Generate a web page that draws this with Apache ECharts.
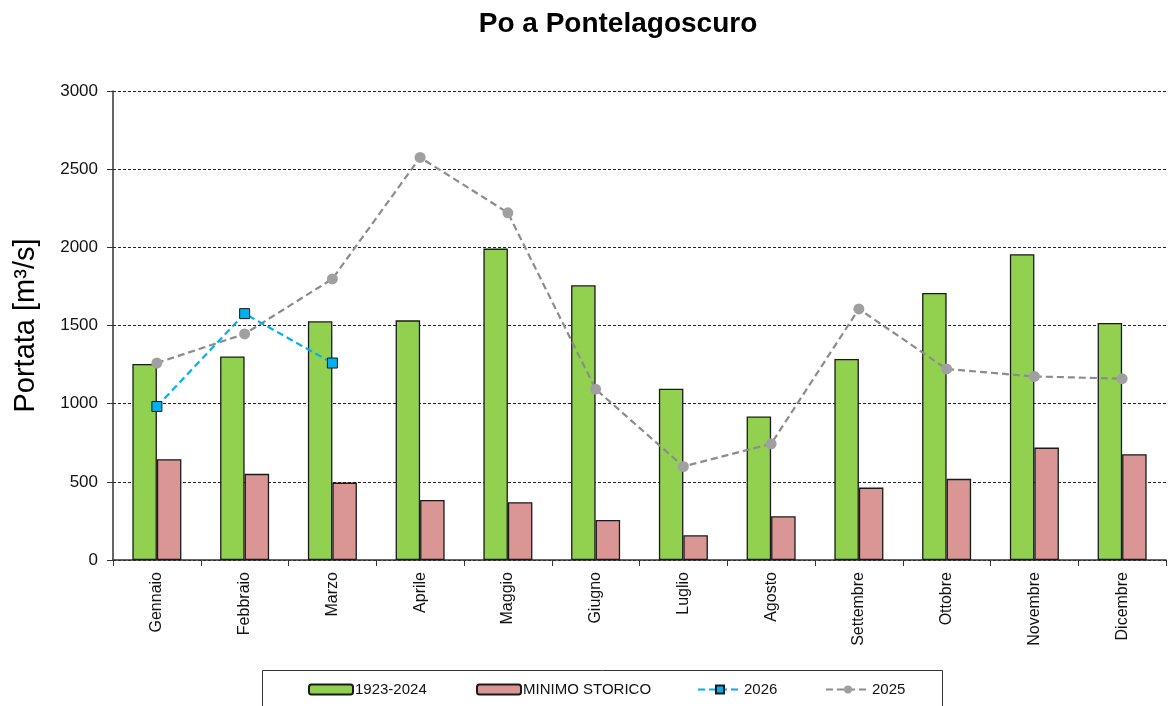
<!DOCTYPE html>
<html>
<head>
<meta charset="utf-8">
<script src="https://cdn.jsdelivr.net/npm/echarts@6/dist/echarts.min.js"></script>
<style>
  html, body { margin: 0; padding: 0; background: #fff; }
  #chart { width: 1169px; height: 706px; }
</style>
</head>
<body>
<div id="chart"></div>
<script>
// Monthly discharge of the Po river at Pontelagoscuro (m³/s)
const months = ['Gennaio', 'Febbraio', 'Marzo', 'Aprile', 'Maggio', 'Giugno',
  'Luglio', 'Agosto', 'Settembre', 'Ottobre', 'Novembre', 'Dicembre'];
const mean19232024 = [1254, 1302, 1527, 1533, 1992, 1757, 1095, 918, 1286, 1708, 1956, 1516];
const minimoStorico = [645, 551, 495, 384, 370, 256, 158, 280, 463, 519, 719, 677];
const year2026 = [982, 1576, 1260, null, null, null, null, null, null, null, null, null];
const year2025 = [1260, 1446, 1798, 2575, 2221, 1093, 598, 743, 1606, 1222, 1174, 1160];
const yTicks = { min: 0, max: 3000, interval: 500 };

const FONT = 'Liberation Sans, Arial, sans-serif';

const chart = echarts.init(document.getElementById('chart'), null, { renderer: 'canvas' });

const legendBase = {
  top: 682,
  itemWidth: 44,
  itemHeight: 10,
  padding: 0,
  selectedMode: false,
  textStyle: { fontFamily: FONT, fontSize: 15, color: '#111', padding: [0, 0, 0, -3] }
};

chart.setOption({
  animation: false,
  backgroundColor: '#fff',
  title: {
    text: 'Po a Pontelagoscuro',
    left: 613,
    textAlign: 'center',
    top: 5,
    textStyle: { fontFamily: FONT, fontSize: 28, fontWeight: 'bold', color: '#000' }
  },
  graphic: [{
    type: 'rect',
    shape: { x: 262.5, y: 670.5, width: 680, height: 60 },
    style: { fill: '#fff', stroke: '#333', lineWidth: 1 },
    z: 0
  }],
  legend: [
    Object.assign({ left: 308, data: ['1923-2024'] }, legendBase),
    Object.assign({ left: 476, data: ['MINIMO STORICO'] }, legendBase),
    Object.assign({ left: 697, data: ['2026'] }, legendBase),
    Object.assign({ left: 825, data: ['2025'] }, legendBase)
  ],
  grid: { left: 113, right: 3, top: 91, bottom: 146, containLabel: false },
  xAxis: {
    type: 'category',
    data: months,
    axisLine: { lineStyle: { color: '#333', width: 1.5 } },
    axisTick: { show: true, length: 6, lineStyle: { color: '#333' } },
    axisLabel: {
      rotate: 90, margin: 12,
      fontFamily: FONT, fontSize: 16, color: '#111'
    }
  },
  yAxis: {
    type: 'value',
    min: yTicks.min, max: yTicks.max, interval: yTicks.interval,
    name: 'Portata [m³/s]',
    nameLocation: 'middle',
    nameGap: 73,
    nameTextStyle: { fontFamily: FONT, fontSize: 29, color: '#000' },
    axisLine: { show: true, lineStyle: { color: '#333', width: 1.5 } },
    axisTick: { show: true, inside: false, length: 6, lineStyle: { color: '#333' } },
    axisLabel: {
      margin: 15, fontFamily: FONT, fontSize: 17, color: '#111',
      formatter: v => String(v)
    },
    splitLine: { show: true, lineStyle: { color: '#222', type: [3, 2], width: 1 } }
  },
  series: [
    {
      name: '1923-2024', type: 'bar', data: mean19232024,
      barWidth: 24.5, barGap: '0%',
      itemStyle: { color: '#92D050', borderColor: '#1a1a1a', borderWidth: 1.3 },
      z: 2
    },
    {
      name: 'MINIMO STORICO', type: 'bar', data: minimoStorico,
      barWidth: 24.5, barGap: '0%',
      itemStyle: { color: '#D99694', borderColor: '#1a1a1a', borderWidth: 1.3 },
      z: 2
    },
    {
      name: '2026', type: 'line', data: year2026,
      symbol: 'rect', symbolSize: 10,
      lineStyle: { color: '#00B0F0', width: 2.2, type: [7, 4] },
      itemStyle: { color: '#00B0F0', borderColor: '#1a1a1a', borderWidth: 1 },
      connectNulls: false,
      z: 4
    },
    {
      name: '2025', type: 'line', data: year2025,
      symbol: 'circle', symbolSize: 11,
      lineStyle: { color: '#8c8c8c', width: 2.2, type: [7, 4] },
      itemStyle: { color: '#a0a0a0', borderWidth: 0 },
      z: 3
    }
  ]
});
</script>
</body>
</html>
